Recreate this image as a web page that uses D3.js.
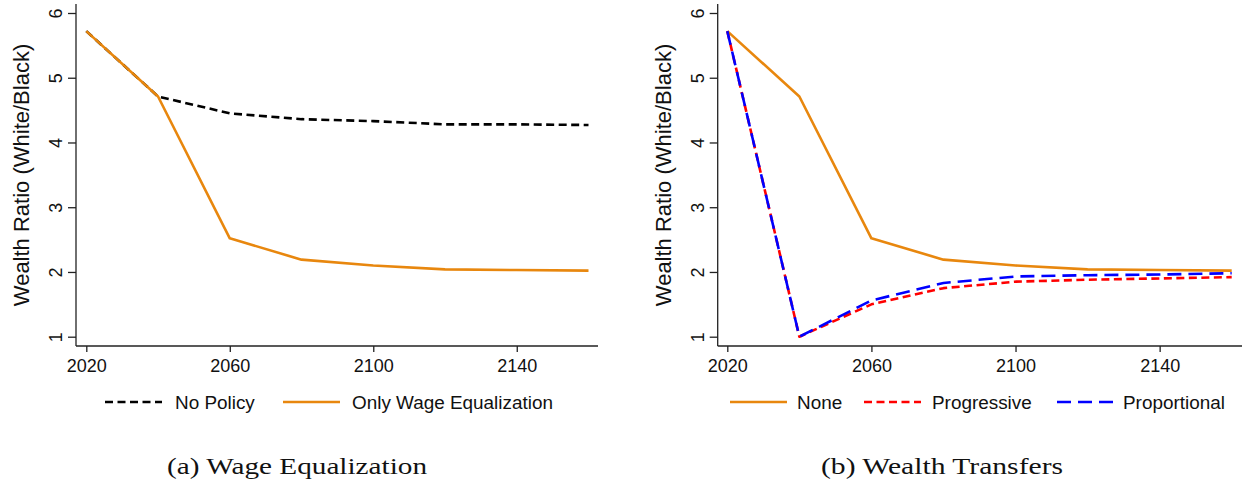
<!DOCTYPE html>
<html>
<head>
<meta charset="utf-8">
<script src="https://cdn.jsdelivr.net/npm/d3@7"></script>
<style>
  body { margin: 0; background: #fff; }
  svg { display: block; }
</style>
</head>
<body>
<div id="chart"></div>
<script>
// years on the x axis
const years = [2020, 2040, 2060, 2080, 2100, 2120, 2140, 2160];
const xTicks = [2020, 2060, 2100, 2140];
const yTicks = [1, 2, 3, 4, 5, 6];

// panel (a)
const noPolicy = [5.72, 4.71, 4.45, 4.36, 4.33, 4.28, 4.28, 4.27];
const onlyWage = [5.72, 4.71, 2.52, 2.19, 2.10, 2.04, 2.03, 2.02];

// panel (b)
const noneTransfer = [5.72, 4.71, 2.52, 2.19, 2.10, 2.04, 2.03, 2.02];
const progressive = [5.72, 1.00, 1.50, 1.75, 1.85, 1.88, 1.90, 1.92];
const proportional = [5.72, 1.00, 1.56, 1.83, 1.93, 1.95, 1.96, 1.98];

const yTitle = "Wealth Ratio (White/Black)";

const width = 1242, height = 484;
const orange = "#e8870e";

const svg = d3.select("#chart").append("svg")
  .attr("width", width)
  .attr("height", height);

const yScale = d3.scaleLinear().domain([1, 6]).range([336.7, 13]);
const axisY = 346;

const panels = [
  {
    axisX: 76, x0: 86.3, x1: 588.5, xEnd: 598,
    caption: "(a) Wage Equalization", capX: 167, capW: 260,
    series: [
      { name: "No Policy", values: noPolicy, color: "#000", dash: "8,4.5" },
      { name: "Only Wage Equalization", values: onlyWage, color: orange, dash: null }
    ],
    legend: [{ lx: 105, tx: 175 }, { lx: 283, tx: 352 }]
  },
  {
    axisX: 717.7, x0: 727.3, x1: 1231.7, xEnd: 1242,
    caption: "(b) Wealth Transfers", capX: 821, capW: 242,
    series: [
      { name: "None", values: noneTransfer, color: orange, dash: null },
      { name: "Progressive", values: progressive, color: "#ff0000", dash: "8,4.5" },
      { name: "Proportional", values: proportional, color: "#0000ff", dash: "14,7" }
    ],
    legend: [{ lx: 730, tx: 797 }, { lx: 864, tx: 932 }, { lx: 1057, tx: 1123 }]
  }
];

panels.forEach(p => {
  const xScale = d3.scaleLinear().domain([2020, 2160]).range([p.x0, p.x1]);
  const g = svg.append("g");

  // y axis
  const yAxis = g.append("g")
    .attr("transform", `translate(${p.axisX},0)`)
    .call(d3.axisLeft(yScale).tickValues(yTicks).tickSize(8).tickSizeOuter(0).tickFormat(d3.format("d")));
  yAxis.select(".domain").remove();
  yAxis.selectAll(".tick line").attr("stroke", "#222").attr("stroke-width", 1.3);
  yAxis.selectAll(".tick text")
    .attr("x", null).attr("dy", null)
    .attr("transform", "translate(-14,0) rotate(-90)")
    .attr("text-anchor", "middle")
    .attr("font-family", "Liberation Sans, Arial, sans-serif")
    .attr("font-size", 18)
    .attr("fill", "#111");
  g.append("line")
    .attr("x1", p.axisX).attr("x2", p.axisX)
    .attr("y1", 4).attr("y2", axisY)
    .attr("stroke", "#222").attr("stroke-width", 1.3);

  // x axis
  const xAxis = g.append("g")
    .attr("transform", `translate(0,${axisY})`)
    .call(d3.axisBottom(xScale).tickValues(xTicks).tickSize(6).tickSizeOuter(0).tickFormat(d3.format("d")));
  xAxis.select(".domain").remove();
  xAxis.selectAll(".tick line").attr("stroke", "#222").attr("stroke-width", 1.3);
  xAxis.selectAll(".tick text")
    .attr("y", 26).attr("dy", null)
    .attr("font-family", "Liberation Sans, Arial, sans-serif")
    .attr("font-size", 18)
    .attr("fill", "#111");
  g.append("line")
    .attr("x1", p.axisX).attr("x2", p.xEnd)
    .attr("y1", axisY).attr("y2", axisY)
    .attr("stroke", "#222").attr("stroke-width", 1.3);

  // y title
  g.append("text")
    .attr("transform", `translate(${p.axisX - 47},175) rotate(-90)`)
    .attr("text-anchor", "middle")
    .attr("font-family", "Liberation Sans, Arial, sans-serif")
    .attr("font-size", 22)
    .attr("fill", "#111")
    .text(yTitle);

  // lines
  const line = d3.line()
    .x((d, i) => xScale(years[i]))
    .y(d => yScale(d));

  p.series.forEach(s => {
    g.append("path")
      .datum(s.values)
      .attr("fill", "none")
      .attr("stroke", s.color)
      .attr("stroke-width", 2.6)
      .attr("stroke-dasharray", s.dash)
      .attr("stroke-linejoin", "round")
      .attr("d", line);
  });

  // legend
  p.series.forEach((s, i) => {
    const L = p.legend[i];
    g.append("line")
      .attr("x1", L.lx).attr("x2", L.lx + 57)
      .attr("y1", 402).attr("y2", 402)
      .attr("stroke", s.color)
      .attr("stroke-width", 2.6)
      .attr("stroke-dasharray", s.dash);
    g.append("text")
      .attr("x", L.tx).attr("y", 408.5)
      .attr("font-family", "Liberation Sans, Arial, sans-serif")
      .attr("font-size", 18.9)
      .attr("fill", "#111")
      .text(s.name);
  });

  // caption
  g.append("text")
    .attr("x", p.capX).attr("y", 474)
    .attr("font-family", "Liberation Serif, Times New Roman, serif")
    .attr("font-size", 24)
    .attr("textLength", p.capW)
    .attr("lengthAdjust", "spacingAndGlyphs")
    .attr("fill", "#111")
    .text(p.caption);
});
</script>
</body>
</html>
